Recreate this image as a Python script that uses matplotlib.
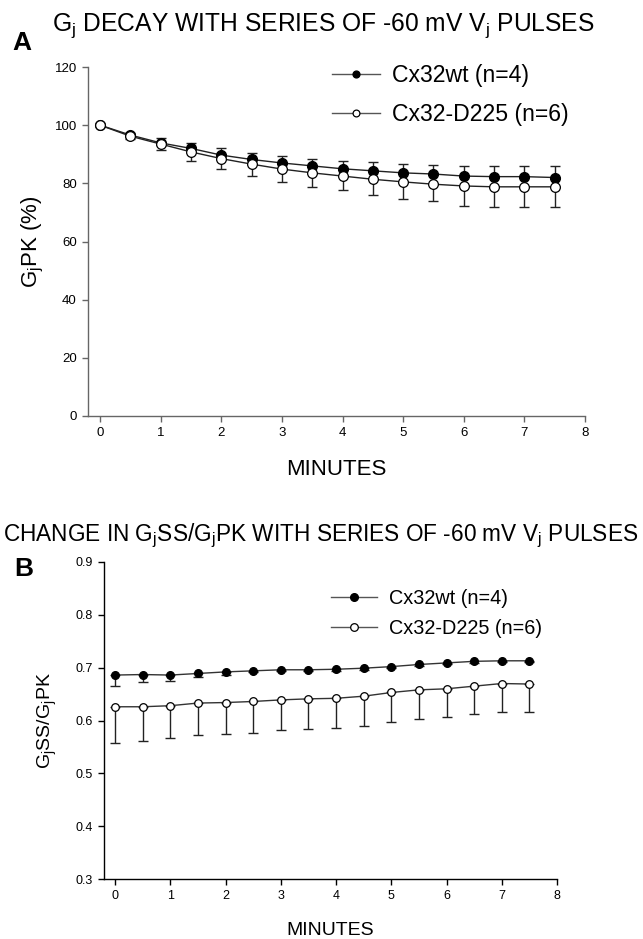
import numpy as np
import matplotlib
matplotlib.use('Agg')
import matplotlib.pyplot as plt

plt.rcParams['font.family'] = ['Liberation Sans', 'DejaVu Sans']
plt.rcParams['mathtext.fontset'] = 'custom'
plt.rcParams['mathtext.rm'] = 'Liberation Sans'

minutes = np.arange(0, 8, 0.5)

# panel A: Gj peak (%)
wt_pk = [100, 96.6, 93.9, 92.0, 89.7, 88.2, 87.0, 86.0, 85.0, 84.3, 83.6, 83.2, 82.5, 82.3, 82.3, 82.0]
wt_pk_err = [0, 0.8, 1.7, 1.7, 2.3, 2.4, 2.4, 2.4, 2.6, 3.0, 3.2, 3.2, 3.6, 3.6, 3.6, 3.8]
mut_pk = [100, 96.2, 93.5, 90.8, 88.5, 86.6, 84.9, 83.6, 82.5, 81.4, 80.5, 79.7, 79.1, 78.8, 78.8, 78.8]
mut_pk_err = [0, 1.0, 2.1, 3.1, 3.7, 4.1, 4.5, 5.0, 4.8, 5.5, 5.8, 5.7, 6.8, 6.9, 7.1, 7.1]

# panel B: Gj SS / Gj PK
wt_ratio = [0.686, 0.687, 0.686, 0.689, 0.692, 0.694, 0.696, 0.696, 0.697, 0.699, 0.702, 0.706, 0.709, 0.712, 0.713, 0.713]
wt_ratio_err = [0.020, 0.014, 0.011, 0.007, 0.006, 0.003, 0.003, 0.003, 0.003, 0.003, 0.003, 0.003, 0.003, 0.003, 0.003, 0.003]
mut_ratio = [0.626, 0.626, 0.628, 0.633, 0.634, 0.636, 0.639, 0.641, 0.642, 0.646, 0.653, 0.658, 0.660, 0.665, 0.670, 0.669]
mut_ratio_err = [0.069, 0.064, 0.062, 0.060, 0.059, 0.059, 0.057, 0.057, 0.057, 0.057, 0.055, 0.055, 0.054, 0.053, 0.053, 0.052]

labels = ['Cx32wt (n=4)', 'Cx32-D225 (n=6)']

fig = plt.figure(figsize=(6.43, 9.39), dpi=100)
W, H = 643, 939


def make_ax(l, r, t, b):
    return fig.add_axes([l / W, 1 - b / H, (r - l) / W, (b - t) / H])


def style(ax, col, tsize):
    for s in ['top', 'right']:
        ax.spines[s].set_visible(False)
    for s in ['left', 'bottom']:
        ax.spines[s].set_color(col)
        ax.spines[s].set_linewidth(1.0)
    ax.tick_params(direction='out', length=4, width=1, color=col, labelsize=tsize, pad=4)


def draw(ax, y1, e1, y2, e2, up1, ms, lc):
    zero = np.zeros(len(minutes))
    err1 = [zero, e1] if up1 else [e1, zero]
    ax.errorbar(minutes, y1, yerr=err1, fmt='none', ecolor='#222222', elinewidth=1, capsize=3.6, capthick=1, zorder=2)
    ax.errorbar(minutes, y2, yerr=[e2, zero], fmt='none', ecolor='#222222', elinewidth=1, capsize=3.6, capthick=1, zorder=2)
    ax.plot(minutes, y1, '-o', color=lc, lw=1, mfc='black', mec='black', ms=ms, zorder=3, label=labels[0])
    ax.plot(minutes, y2, '-o', color=lc, lw=1, mfc='white', mec='black', mew=0.9, ms=ms, zorder=4, label=labels[1])


def legend(ax, x, y, fs, ms, hl, pad, sp):
    leg = ax.legend(loc='upper left', bbox_to_anchor=(x / W, 1 - y / H), bbox_transform=fig.transFigure,
                    frameon=False, fontsize=fs, markerscale=ms, handlelength=hl, handletextpad=pad,
                    labelspacing=sp, borderpad=0, borderaxespad=0)
    for ln in leg.get_lines():
        ln.set_color('#555555')


# ---- panel A
axA = make_ax(88, 585, 67, 416)
style(axA, '#666666', 9.5)
draw(axA, wt_pk, wt_pk_err, mut_pk, mut_pk_err, True, 7, '#222222')
axA.set_xlim(-0.2, 8)
axA.set_ylim(0, 120)
axA.set_xticks(range(0, 9))
axA.set_yticks(range(0, 121, 20))
axA.set_xlabel('MINUTES', fontsize=16, labelpad=14)
axA.set_ylabel(r'$\mathregular{G_jPK}$ (%)', fontsize=16, labelpad=6)
legend(axA, 332, 64, 16.6, 0.7, 2.1, 0.52, 0.71)
fig.text(12 / W, 1 - 50 / H, 'A', fontsize=19, fontweight='bold', va='baseline')
fig.text(52 / W, 1 - 31 / H, r'$\mathregular{G_j}$ DECAY WITH SERIES OF -60 mV $\mathregular{V_j}$ PULSES',
         fontsize=17.7, va='baseline')

# ---- panel B
axB = make_ax(104, 557, 562, 879)
style(axB, 'black', 9)
draw(axB, wt_ratio, wt_ratio_err, mut_ratio, mut_ratio_err, False, 5.5, '#333333')
axB.set_xlim(-0.2, 8)
axB.set_ylim(0.3, 0.9)
axB.set_xticks(range(0, 9))
axB.set_yticks(np.arange(0.3, 0.91, 0.1))
axB.set_yticklabels([f'{v:.1f}' for v in np.arange(0.3, 0.91, 0.1)])
axB.set_xlabel('MINUTES', fontsize=14, labelpad=14)
axB.set_ylabel(r'$\mathregular{G_jSS/G_jPK}$', fontsize=14, labelpad=12)
legend(axB, 331, 589, 14.3, 1.0, 2.3, 0.6, 0.56)
fig.text(14 / W, 1 - 576 / H, 'B', fontsize=19, fontweight='bold', va='baseline')
fig.text(3 / W, 1 - 541 / H, r'CHANGE IN $\mathregular{G_jSS/G_jPK}$ WITH SERIES OF -60 mV $\mathregular{V_j}$ PULSES',
         fontsize=16.3, va='baseline')

fig.savefig('out.png', dpi=100)
